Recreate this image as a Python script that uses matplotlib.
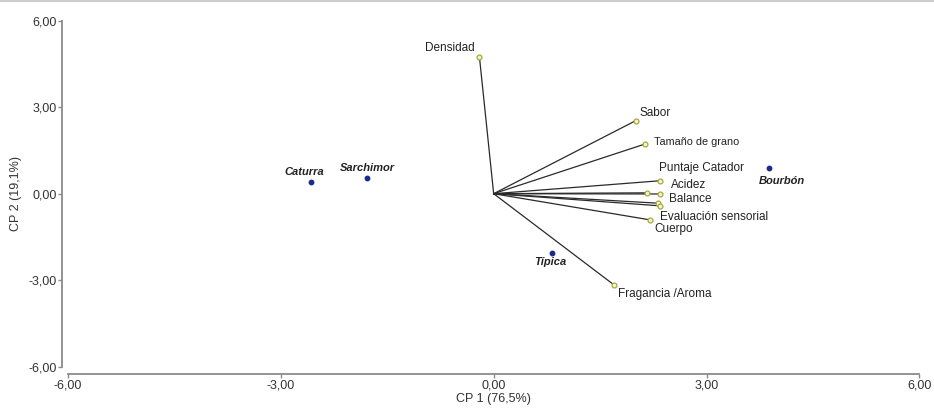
"""Biplot CP1 vs CP2: variables de calidad y genotipos de café."""

import matplotlib
matplotlib.use("Agg")
import matplotlib.pyplot as plt
from matplotlib.ticker import FuncFormatter

plt.rcParams["font.family"] = ["Liberation Sans", "DejaVu Sans"]

# Variables (vectores de carga)
var_names = ["Densidad", "Sabor", "Tamaño de grano", "Puntaje Catador", "",
             "Acidez", "Balance", "Evaluación sensorial", "Cuerpo",
             "Fragancia /Aroma"]
var_x = [-0.20, 2.00, 2.13, 2.35, 2.16, 2.35, 2.32, 2.34, 2.21, 1.70]
var_y = [4.73, 2.53, 1.72, 0.45, 0.03, -0.01, -0.33, -0.42, -0.91, -3.17]

# Genotipos
geno_names = ["Caturra", "Sarchimor", "Típica", "Bourbón"]
geno_x = [-2.58, -1.78, 0.82, 3.88]
geno_y = [0.41, 0.55, -2.07, 0.90]

ticks = [-6, -3, 0, 3, 6]

# label placement: offset in pixels (dx, dy), horizontal alignment, size
var_offsets = [(-5, 9), (4, 8), (9, 2), (-1, 13), (0, 0),
               (11, 9), (11, 4), (0, -11), (4, -9), (4, -9)]
var_ha = ["right", "left", "left", "left", "left",
          "left", "left", "left", "left", "left"]
var_sizes = [8.5, 8.5, 7.8, 8.5, 8.5, 8.5, 8.5, 8.5, 8.5, 8.5]
geno_offsets = [(-6, 10), (0, 10), (-1, -9), (13, -13)]


def comma_fmt(v, _pos):
    return f"{v:.2f}".replace(".", ",")


fig = plt.figure(figsize=(9.34, 4.13), dpi=100)
ax = fig.add_axes([0.0728, 0.1121, 0.9115, 0.8378])

for name, x, y, off, ha, fs in zip(var_names, var_x, var_y, var_offsets,
                                   var_ha, var_sizes):
    ax.plot([0, x], [0, y], color="#2a2a2a", lw=0.9, zorder=2)
    ax.plot(x, y, "o", ms=3.5, mfc="#f4f4d0", mec="#a8a83c", mew=0.9, zorder=3)
    if name:
        ax.annotate(name, (x, y), xytext=off, textcoords="offset pixels",
                    ha=ha, va="center", fontsize=fs, color="#222222")

ax.plot(geno_x, geno_y, "o", ms=3.2, color="#1c2a8c", zorder=4)
for name, x, y, off in zip(geno_names, geno_x, geno_y, geno_offsets):
    ax.annotate(name, (x, y), xytext=off, textcoords="offset pixels",
                ha="center", va="center", fontsize=8, fontweight="bold",
                fontstyle="italic", color="#222222")

ax.set_xlim(-6, 6)
ax.set_ylim(-6, 6)
ax.set_xticks(ticks)
ax.set_yticks(ticks)
ax.xaxis.set_major_formatter(FuncFormatter(comma_fmt))
ax.yaxis.set_major_formatter(FuncFormatter(comma_fmt))

for side in ["top", "right"]:
    ax.spines[side].set_visible(False)
ax.spines["left"].set_position(("outward", 4))
ax.spines["bottom"].set_position(("outward", 5))
for side in ["left", "bottom"]:
    ax.spines[side].set_color("#8a8a8a")
    ax.spines[side].set_linewidth(1.3)
ax.tick_params(axis="both", length=3, width=1, color="#8a8a8a",
               labelsize=9, labelcolor="#333333", pad=1)

ax.set_xlabel("CP 1 (76,5%)", fontsize=9, color="#333333", labelpad=1)
ax.set_ylabel("CP 2 (19,1%)", fontsize=9, color="#333333", labelpad=5)

fig.add_artist(plt.Line2D([0, 1], [0.998, 0.998], color="#cccccc", lw=1.5,
                          transform=fig.transFigure))

fig.savefig("out.png", dpi=100)
